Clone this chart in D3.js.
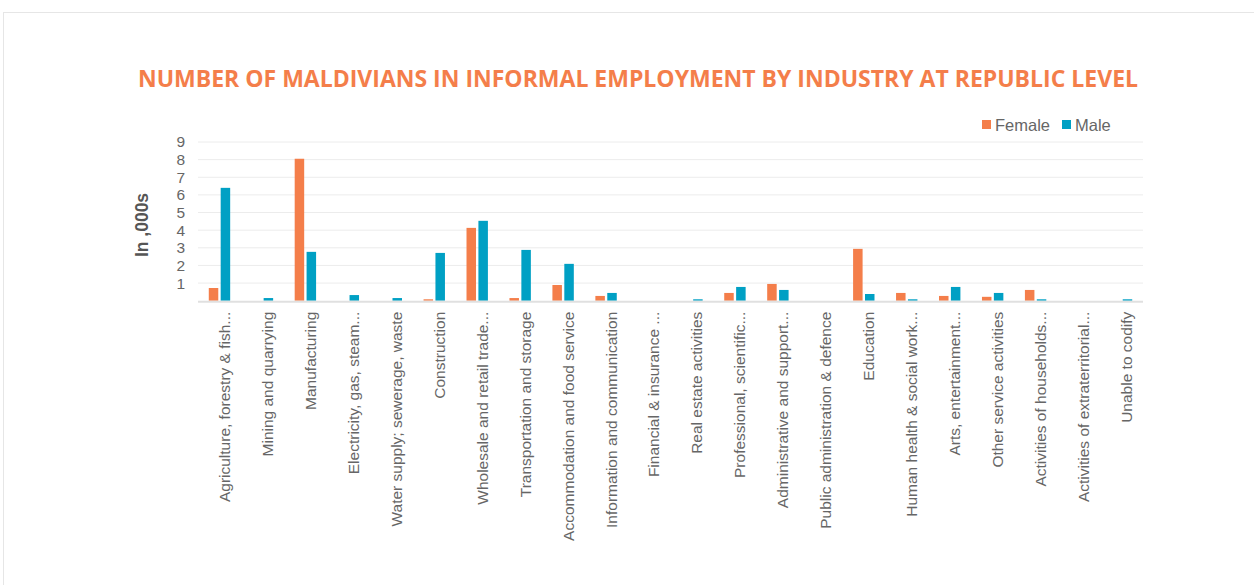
<!DOCTYPE html>
<html><head><meta charset="utf-8">
<script src="https://cdn.jsdelivr.net/npm/d3@7"></script>
<style>
html,body{margin:0;padding:0;background:#fff;}
svg{display:block;}
</style></head>
<body><svg id="c" width="1254" height="585"></svg>
<script>
const categories = ["Agriculture, forestry & fish...","Mining and quarrying","Manufacturing","Electricity, gas, steam...","Water supply; sewerage, waste","Construction","Wholesale and retail trade...","Transportation and storage","Accommodation and food service","Information and communication","Financial & insurance ...","Real estate activities","Professional, scientific...","Administrative and support...","Public administration & defence","Education","Human health & social work...","Arts, entertainment...","Other service activities","Activities of households...","Activities of extraterritorial...","Unable to codify"];
const female = [0.72,0.0,8.05,0.0,0.0,0.08,4.13,0.15,0.89,0.27,0.0,0.0,0.44,0.95,0.0,2.94,0.44,0.27,0.22,0.61,0.0,0.0];
const male   = [6.40,0.15,2.77,0.32,0.15,2.71,4.53,2.88,2.09,0.44,0.0,0.08,0.78,0.61,0.0,0.38,0.08,0.78,0.44,0.08,0.0,0.08];
const seriesNames = ["Female","Male"];
const colors = ["#F47E4A","#00A0C4"];
const yTicks = [1,2,3,4,5,6,7,8,9];
const title = "NUMBER OF MALDIVIANS IN INFORMAL EMPLOYMENT BY INDUSTRY AT REPUBLIC LEVEL";

const svg = d3.select("#c");
svg.append("rect").attr("x",3.5).attr("y",12.5).attr("width",1260).attr("height",600)
  .attr("fill","#fff").attr("stroke","#e6e6e6").attr("stroke-width",1);

const m = {left:198, right:1143, top:142, bottom:300.7};
const x = d3.scaleBand().domain(categories).range([m.left,m.right]).paddingInner(0).paddingOuter(0);
const y = d3.scaleLinear().domain([0,9]).range([m.bottom,m.top]);
const barW = 9.5, gap = 2.4;

svg.append("text").attr("x",638).attr("y",86.5).attr("text-anchor","middle")
  .attr("font-family","Open Sans, sans-serif").attr("font-weight",700).attr("font-size",23)
  .attr("fill","#F47E4A").text(title);

svg.append("g").selectAll("line").data(yTicks).join("line")
  .attr("x1",m.left).attr("x2",m.right).attr("y1",d=>y(d)).attr("y2",d=>y(d))
  .attr("stroke","#ececec").attr("stroke-width",1);

const yAxis = svg.append("g").attr("transform",`translate(${m.left-8},0)`)
  .call(d3.axisLeft(y).tickValues(yTicks).tickSize(0).tickPadding(5).tickFormat(d3.format("d")));
yAxis.select(".domain").remove();
yAxis.selectAll("text").attr("font-family","Liberation Sans, Arial, sans-serif").attr("font-size",15.5).attr("fill","#666");

svg.append("text").attr("transform","translate(148,225) rotate(-90)").attr("text-anchor","middle")
  .attr("font-family","Liberation Sans, Arial, sans-serif").attr("font-weight",700).attr("font-size",17.5)
  .attr("fill","#555").text("In ,000s");

[female, male].forEach((vals,si)=>{
  svg.append("g").selectAll("rect").data(categories).join("rect")
    .attr("x",(c)=> x(c) + x.bandwidth()/2 + (si===0 ? -(barW+gap/2) : gap/2))
    .attr("width",barW)
    .attr("y",(c,i)=>y(vals[i]))
    .attr("height",(c,i)=>y(0)-y(vals[i]))
    .attr("fill",colors[si]);
});

svg.append("line").attr("x1",m.left).attr("x2",m.right).attr("y1",y(0)+1).attr("y2",y(0)+1)
  .attr("stroke","#e0e0e0").attr("stroke-width",2);

const xAxis = svg.append("g").attr("transform",`translate(0,${y(0)+2})`)
  .call(d3.axisBottom(x).tickSize(0).tickPadding(0));
xAxis.select(".domain").remove();
xAxis.selectAll("text")
  .attr("font-family","Liberation Sans, Arial, sans-serif").attr("font-size",15.5).attr("fill","#666")
  .attr("text-anchor","end").attr("dy","0.35em")
  .attr("transform","translate(5,9) rotate(-90)").attr("y",0).attr("x",0);

const lx = [982, 1062];
seriesNames.forEach((s,i)=>{
  svg.append("rect").attr("x",lx[i]).attr("y",120).attr("width",9).attr("height",9).attr("fill",colors[i]);
  svg.append("text").attr("x",lx[i]+13).attr("y",130.5).attr("font-family","Liberation Sans, Arial, sans-serif")
    .attr("font-size",16.5).attr("fill","#666").text(s);
});
</script></body></html>
